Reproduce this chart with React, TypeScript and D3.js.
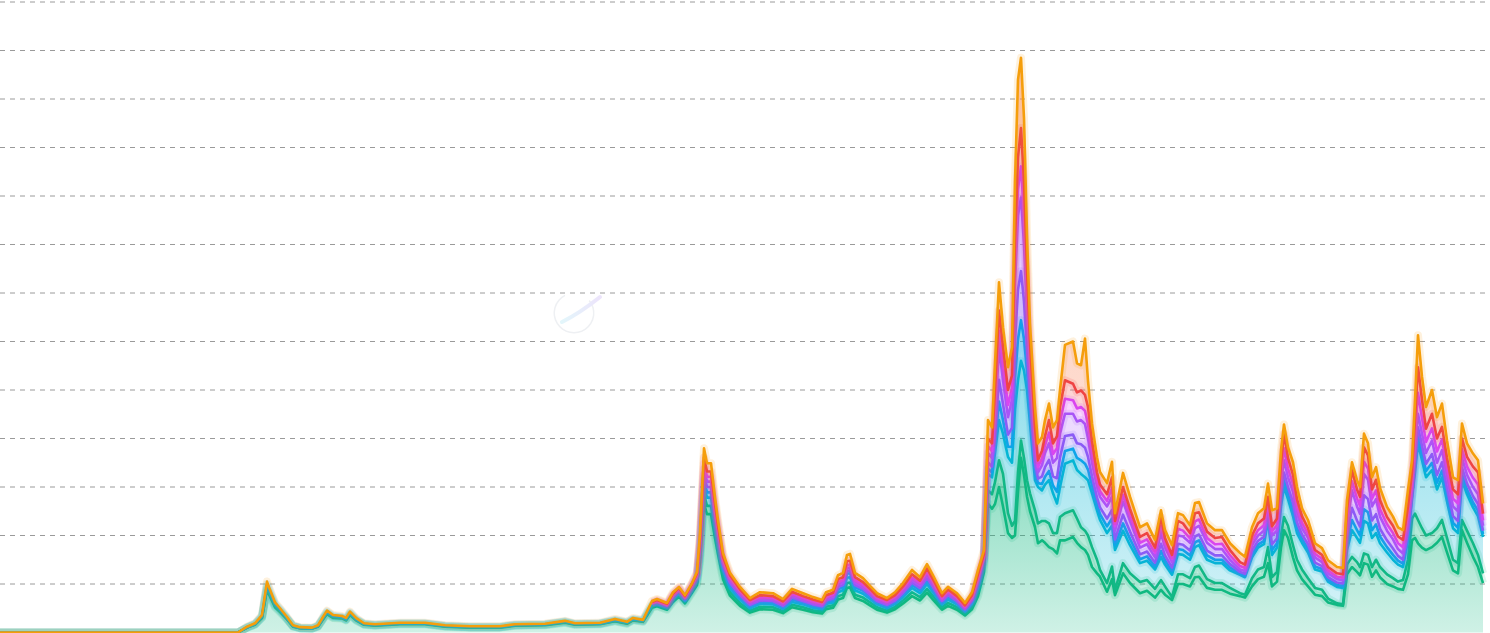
import { useEffect, useRef } from 'react';
import * as d3 from 'd3';

// day offsets of each sample (one pixel of the reference ~ 3 days)
const days = [
  0, 714, 741, 765, 786, 801, 810, 825, 840, 861, 879, 900, 936, 954, 969, 981, 999, 1026, 1038, 1050,
  1068, 1092, 1125, 1200, 1275, 1335, 1410, 1500, 1545, 1635, 1695, 1725, 1800, 1845, 1881, 1899, 1929,
  1956, 1971, 2001, 2019, 2037, 2055, 2076, 2091, 2100, 2112, 2121, 2133, 2145, 2154, 2169, 2190, 2220, 2250, 2280, 2319,
  2349, 2376, 2409, 2439, 2466, 2478, 2499, 2514, 2529, 2541, 2550, 2565, 2589, 2610, 2631, 2661, 2685, 2709, 2736, 2760,
  2781, 2799, 2826, 2844, 2871, 2895, 2916, 2934,
  2952, 2964, 2976, 2985, 2997, 3009, 3024, 3036, 3045, 3054, 3063, 3072, 3081, 3090, 3105, 3114, 3126, 3135, 3147, 3159,
  3171, 3180, 3195, 3219, 3231, 3243, 3255, 3264, 3276, 3291, 3300, 3321, 3336, 3345, 3369, 3390, 3420, 3441, 3465, 3483,
  3495, 3516, 3534, 3549, 3570, 3585, 3597, 3621, 3645, 3666, 3690, 3720, 3735, 3756, 3774, 3792, 3804, 3816, 3831, 3843,
  3852, 3864, 3879, 3891, 3906, 3924, 3945, 3966, 3984, 4011, 4029, 4041, 4056, 4071, 4080, 4092, 4104, 4116, 4128, 4140,
  4161, 4179, 4194, 4209, 4224, 4236, 4245, 4254, 4266, 4278, 4296, 4311, 4326, 4341, 4359, 4374, 4386, 4401, 4419, 4434,
  4449,
];

const emerald = [
  0, 0, .10, .16, .30, .88, .74, .52, .42, .27, .12, .09, .08, .12, .27, .38, .30, .29, .25, .36,
  .25, .16, .14, .17, .17, .12, .10, .10, .14, .15, .20, .16, .17, .23, .18, .25, .22,
  .51, .54, .47, .63, .74, .60, .82, .98, 1.44, 2.66, 2.44, 2.44, 1.95, 1.62, 1.10, .76, .55, .41, .48, .47,
  .40, .52, .47, .42, .39, .48, .51, .68, .71, .92, .93, .71, .65, .56, .47, .41, .48, .60, .75, .66,
  .82, .68, .47, .55, .47, .35, .48, .75,
  1.25, 2.66, 2.55, 2.65, 3.0, 2.6, 2.05, 1.95, 2.0, 2.9, 3.6, 3.25, 2.8, 2.5, 2.17, 1.84, 1.9, 1.85, 1.76, 1.72,
  1.63, 1.9, 1.9, 1.97, 1.85, 1.76, 1.7, 1.6, 1.35, 1.22, 1.15, .84, 1.1, .77, 1.22, 1.02, .81, .86, .72, .88,
  .78, .67, 1.0, 1.0, .95, 1.14, 1.15, .92, .88, .88, .8, .75, .72, .95, 1.1, 1.15, 1.43, .95, 1.05, 1.75,
  2.11, 1.95, 1.55, 1.28, 1.1, .95, .78, .75, .62, .57, .55, 1.2, 1.35, 1.25, 1.18, 1.43, 1.4, 1.15, 1.28, 1.14,
  1.0, .95, .9, .88, 1.2, 1.9, 1.95, 1.84, 1.75, 1.7, 1.76, 1.85, 1.97, 1.65, 1.28, 1.22, 2.11, 1.85, 1.56, 1.35,
  1.02,
];

const teal = [
  0, 0, 0, .01, .01, .03, .03, .02, .02, .01, .01, 0, 0, .01, .01, .01, .01, .01, .01, .01,
  .01, .01, .01, .01, .01, .01, .01, .01, .01, .01, .01, .01, .01, .01, .01, .01, .01,
  .02, .02, .02, .03, .03, .02, .03, .04, .10, .19, .17, .17, .14, .12, .09, .07, .06, .04, .05, .05,
  .04, .05, .05, .04, .04, .05, .05, .07, .07, .10, .10, .07, .07, .06, .05, .04, .05, .06, .08, .07,
  .08, .07, .05, .06, .05, .04, .05, .08,
  .15, .27, .30, .45, .55, .67, .41, .25, .3, .4, .36, .35, .34, .37, .35, .41, .4, .45, .49, .33,
  .42, .48, .56, .55, .5, .41, .4, .4, .41, .28, .14, .18, .26, .11, .21, .2, .23, .22, .18, .2,
  .17, .06, .2, .2, .17, .21, .23, .18, .14, .14, .12, .06, .06, .17, .2, .2, .33, .19, .2, .25,
  .27, .25, .25, .22, .2, .17, .14, .13, .08, .03, .03, .2, .21, .2, .17, .2, .2, .2, .22, .21,
  .2, .17, .15, .2, .3, .45, .5, .48, .4, .3, .29, .3, .35, .3, .22, .21, .21, .25, .28, .25,
  .2,
];

const cyan = [
  0, 0, 0, 0, .02, .04, .03, .03, .02, .01, 0, 0, 0, 0, .01, .02, .02, .01, .01, .02,
  .01, 0, 0, 0, 0, 0, 0, 0, 0, 0, .01, 0, 0, .01, .01, .01, .01,
  .03, .03, .03, .03, .04, .03, .04, .05, .10, .19, .17, .17, .14, .12, .10, .08, .07, .05, .06, .06,
  .05, .06, .06, .05, .05, .06, .06, .08, .09, .11, .11, .09, .08, .07, .06, .05, .06, .07, .09, .08,
  .10, .08, .06, .07, .06, .04, .06, .09,
  .10, .34, .35, .60, .83, .83, 1.16, 1.3, 2.3, 1.9, 1.64, 1.8, 1.86, 1.44, .62, .75, .63, .75, .89, .82,
  .61, .62, 1.02, 1.03, 1.0, 1.1, 1.1, 1.14, 1.11, 1.02, 1.03, 1.03, .84, .82, .67, .58, .39, .4, .4, .48,
  .45, .46, .42, .4, .38, .41, .42, .4, .41, .41, .36, .38, .36, .43, .45, .47, .56, .46, .5, .6,
  .62, .55, .6, .55, .55, .53, .38, .38, .35, .34, .34, .3, .55, .5, .5, .67, .65, .6, .55, .49,
  .45, .38, .35, .27, .4, .4, .85, 1.58, 1.4, 1.2, 1.3, .8, .88, .75, .65, .62, .82, .75, .74, .8,
  .75,
];

const sky = [
  0, 0, .01, .01, .01, .05, .04, .02, .02, .01, .01, .01, .01, .01, .01, .02, .01, .01, .01, .02,
  .01, .01, .01, .01, .01, .01, .01, .01, .01, .01, .01, .01, .01, .01, .01, .01, .01,
  .02, .03, .02, .03, .03, .03, .03, .04, .06, .11, .11, .11, .09, .07, .06, .06, .05, .04, .04, .04,
  .03, .05, .04, .04, .03, .04, .04, .06, .06, .08, .08, .06, .06, .05, .04, .04, .04, .05, .06, .06,
  .07, .06, .04, .05, .04, .03, .04, .06,
  .01, .11, .10, .18, .38, .28, .21, .33, .65, .85, .84, .65, .39, .26, .17, .08, .13, .16, .19, .16,
  .24, .28, .26, .24, .25, .28, .28, .22, .16, .12, .12, .14, .15, .1, .15, .13, .08, .09, .06, .12,
  .09, .07, .1, .1, .09, .1, .1, .09, .07, .07, .06, .03, .03, .06, .06, .07, .06, .1, .09, .13,
  .14, .11, .13, .1, .08, .08, .06, .05, .04, .04, .04, .13, .21, .16, .15, .24, .23, .16, .18, .14,
  .11, .1, .08, .07, .09, .05, .13, .15, .14, .13, .15, .14, .14, .13, .11, .11, .12, .1, .1, .11,
  .06,
];

const violet = [
  0, 0, 0, 0, 0, 0, 0, 0, 0, 0, 0, 0, 0, 0, 0, 0, 0, 0, 0, 0,
  0, 0, 0, 0, 0, 0, 0, 0, 0, 0, 0, 0, 0, 0, 0, 0, 0,
  .01, .01, .01, .02, .02, .02, .02, .03, .06, .11, .11, .11, .08, .07, .05, .05, .04, .03, .03, .03,
  .03, .04, .03, .03, .03, .03, .04, .05, .05, .06, .06, .05, .04, .04, .03, .03, .03, .04, .05, .05,
  .06, .05, .03, .04, .03, .02, .03, .05,
  .02, .13, .12, .21, .45, .33, .25, .39, .78, 1.02, 1.01, .78, .47, .31, .2, .09, .16, .2, .23, .19,
  .28, .33, .31, .29, .3, .33, .33, .26, .19, .14, .14, .16, .18, .12, .18, .15, .1, .1, .08, .15,
  .1, .08, .11, .11, .1, .12, .12, .1, .09, .09, .07, .03, .04, .08, .08, .08, .07, .12, .1, .15,
  .16, .14, .15, .12, .09, .09, .08, .06, .05, .05, .05, .15, .25, .2, .18, .29, .27, .2, .21, .16,
  .14, .13, .1, .08, .1, .06, .15, .18, .16, .15, .18, .16, .17, .15, .14, .14, .14, .12, .13, .14,
  .07,
];

const purple = [
  0, 0, 0, 0, 0, 0, 0, 0, 0, 0, 0, 0, 0, 0, 0, 0, 0, 0, 0, 0,
  0, 0, 0, 0, 0, 0, 0, 0, 0, 0, 0, 0, 0, 0, 0, 0, 0,
  .01, .01, .01, .02, .02, .02, .02, .03, .06, .11, .11, .11, .08, .07, .05, .05, .04, .03, .03, .03,
  .03, .04, .03, .03, .03, .03, .04, .05, .05, .06, .06, .05, .04, .04, .03, .03, .03, .04, .05, .05,
  .06, .05, .03, .04, .03, .02, .03, .05,
  .02, .19, .18, .31, .67, .49, .36, .58, 1.17, 1.53, 1.52, 1.17, .71, .46, .31, .13, .23, .29, .34, .28,
  .42, .49, .46, .43, .45, .5, .49, .38, .28, .22, .22, .25, .27, .18, .27, .22, .14, .15, .11, .22,
  .16, .11, .17, .17, .16, .17, .18, .16, .13, .13, .09, .05, .06, .11, .11, .13, .1, .18, .16, .22,
  .25, .2, .22, .18, .13, .13, .11, .08, .08, .07, .07, .22, .36, .29, .27, .44, .4, .29, .31, .25,
  .2, .19, .14, .13, .16, .09, .22, .28, .25, .22, .28, .25, .25, .22, .2, .2, .2, .18, .19, .2,
  .1,
];

const fuchsia = [
  0, 0, 0, 0, 0, 0, 0, 0, 0, 0, 0, 0, 0, 0, 0, 0, 0, 0, 0, 0,
  0, 0, 0, 0, 0, 0, 0, 0, 0, 0, 0, 0, 0, 0, 0, 0, 0,
  .01, .01, .01, .02, .02, .01, .02, .02, .06, .11, .10, .10, .08, .07, .05, .05, .04, .03, .04, .03,
  .03, .04, .03, .03, .03, .04, .04, .05, .05, .06, .06, .05, .04, .04, .03, .03, .04, .04, .05, .05,
  .06, .05, .03, .04, .03, .03, .04, .05,
  .03, .14, .14, .27, .34, .32, .25, .23, .41, .54, .64, .59, .42, .28, .18, .11, .14, .16, .22, .18,
  .2, .25, .31, .28, .27, .27, .27, .29, .2, .14, .11, .11, .18, .09, .14, .11, .1, .1, .09, .15,
  .09, .07, .14, .12, .09, .14, .13, .1, .1, .11, .09, .07, .06, .09, .11, .11, .11, .09, .11, .18,
  .25, .18, .16, .14, .11, .09, .07, .07, .06, .05, .05, .16, .19, .16, .16, .25, .23, .16, .18, .15,
  .13, .13, .12, .13, .16, .16, .27, .43, .32, .23, .25, .23, .22, .18, .16, .16, .18, .17, .19, .2,
  .11,
];

const red = [
  0, 0, 0, 0, 0, 0, 0, 0, 0, 0, 0, 0, 0, 0, 0, 0, 0, 0, 0, 0,
  0, 0, 0, 0, 0, 0, 0, 0, 0, 0, 0, 0, 0, 0, 0, 0, 0,
  .02, .02, .02, .02, .02, .02, .02, .03, .06, .13, .11, .11, .09, .07, .06, .06, .04, .04, .04, .04,
  .03, .04, .04, .04, .03, .04, .04, .06, .06, .08, .08, .06, .06, .04, .04, .04, .04, .05, .07, .05,
  .07, .06, .04, .04, .04, .03, .04, .07,
  .04, .16, .16, .33, .42, .38, .31, .27, .49, .66, .79, .71, .51, .35, .23, .14, .16, .19, .26, .22,
  .25, .3, .38, .34, .33, .34, .33, .36, .25, .16, .14, .14, .22, .11, .16, .14, .12, .13, .11, .18,
  .11, .08, .16, .15, .11, .17, .15, .13, .13, .14, .11, .08, .07, .11, .14, .14, .14, .1, .14, .22,
  .3, .22, .19, .16, .14, .11, .08, .08, .07, .07, .07, .19, .23, .19, .19, .3, .27, .19, .22, .19,
  .15, .15, .14, .15, .19, .19, .33, .53, .38, .27, .3, .27, .26, .22, .19, .19, .22, .2, .23, .25,
  .14,
];

const amber = [
  0, 0, .01, .01, .02, .05, .04, .03, .02, .02, .01, .01, .01, .01, .02, .02, .02, .02, .02, .02,
  .02, .01, .01, .01, .01, .01, .01, .01, .01, .01, .01, .01, .01, .02, .01, .02, .01,
  .02, .02, .02, .03, .02, .02, .02, .03, .11, .19, .17, .17, .14, .11, .08, .05, .05, .04, .06, .06,
  .05, .06, .06, .05, .04, .06, .06, .08, .09, .13, .14, .09, .08, .06, .06, .04, .06, .07, .09, .07,
  .09, .08, .06, .05, .06, .05, .06, .09,
  .08, .38, .33, .55, .58, .39, .47, .58, 1.2, 1.6, 1.45, 1.3, .7, .4, .41, .35, .28, .33, .34, .33,
  .33, .35, .73, .87, .6, .52, 1.16, .54, .35, .31, .26, .23, .32, .16, .29, .25, .2, .2, .16, .14,
  .16, .2, .16, .17, .16, .21, .21, .17, .16, .14, .14, .19, .16, .17, .21, .21, .27, .33, .21, .26,
  .19, .22, .26, .25, .16, .17, .14, .14, .14, .13, .13, .18, .16, .19, .2, .28, .25, .25, .26, .25,
  .21, .19, .19, .2, .34, .25, .39, .66, .47, .45, .49, .44, .48, .36, .25, .29, .31, .28, .27, .25,
  .21,
];

const keys = ['emerald', 'teal', 'cyan', 'sky', 'violet', 'purple', 'fuchsia', 'red', 'amber'];
const values = [emerald, teal, cyan, sky, violet, purple, fuchsia, red, amber];
const lineColors = ['#10b981', '#12b886', '#06b6d4', '#0ea5e9', '#8b5cf6', '#a855f7', '#d946ef', '#ef4444', '#f59e0b'];
const fillColors = ['#10b981', '#10b981', '#06b6d4', '#22b3e6', '#a78bfa', '#c084fc', '#e879f9', '#f87171', '#fa7f52'];
const gridTicks = [1, 2, 3, 4, 5, 6, 7, 8, 9, 10, 11, 12, 13];

type Row = Record<string, number>;

export default function App() {
  const ref = useRef<SVGSVGElement | null>(null);

  useEffect(() => {
    if (!ref.current) return;
    const svg = d3.select(ref.current);
    svg.selectAll('*').remove();

    const plotRight = 1485;
    const x = d3.scaleLinear().domain([0, 4455]).range([0, plotRight]);
    const y = d3.scaleLinear().domain([0, 13]).range([632.5, 2]);

    const rows: Row[] = days.map((day, i) => {
      const row: Row = { day };
      keys.forEach((k, j) => { row[k] = values[j][i] ?? 0; });
      return row;
    });
    const layers = d3.stack<Row>().keys(keys)(rows);

    const defs = svg.append('defs');
    fillColors.forEach((c, j) => {
      const g = defs.append('linearGradient')
        .attr('id', `fill-${j}`)
        .attr('x1', 0).attr('y1', 0).attr('x2', 0).attr('y2', 1);
      g.append('stop').attr('offset', '0%').attr('stop-color', c).attr('stop-opacity', j === 0 ? 0.5 : 0.45);
      g.append('stop').attr('offset', '100%').attr('stop-color', c).attr('stop-opacity', j === 0 ? 0.2 : 0.16);
    });
    const swoosh = defs.append('linearGradient').attr('id', 'wm').attr('x1', 0).attr('x2', 1);
    swoosh.append('stop').attr('offset', '0%').attr('stop-color', '#e3f6fb');
    swoosh.append('stop').attr('offset', '100%').attr('stop-color', '#ece4fb');

    // dashed grid
    svg.append('g')
      .selectAll('line')
      .data(gridTicks)
      .join('line')
      .attr('x1', 0)
      .attr('x2', plotRight)
      .attr('y1', d => y(d))
      .attr('y2', d => y(d))
      .attr('stroke', '#9a9a9a')
      .attr('stroke-width', 1)
      .attr('stroke-dasharray', '5,5');

    // faint watermark
    const wm = svg.append('g').attr('transform', 'translate(574,313)');
    const arc = d3.arc()({ innerRadius: 19, outerRadius: 20.5, startAngle: Math.PI * 0.28, endAngle: Math.PI * 1.85 } as any);
    wm.append('path').attr('d', arc).attr('fill', '#eef0f3');
    wm.append('path')
      .attr('d', 'M-12,9 Q6,0 26,-16')
      .attr('fill', 'none')
      .attr('stroke', 'url(#wm)')
      .attr('stroke-width', 4)
      .attr('stroke-linecap', 'round');

    const area = d3.area<d3.SeriesPoint<Row>>()
      .x(d => x(d.data.day))
      .y0(d => y(d[0]))
      .y1(d => y(d[1]));

    svg.append('g')
      .selectAll('path')
      .data(layers)
      .join('path')
      .attr('d', area)
      .attr('fill', (_, j) => `url(#fill-${j})`);

    const lines = svg.append('g').attr('fill', 'none').attr('stroke-linejoin', 'round');
    layers.forEach((layer, j) => {
      const always = j < 4 || j === 8;
      const line = d3.line<d3.SeriesPoint<Row>>()
        .defined(d => always || d[1] - d[0] > 0.001)
        .x(d => x(d.data.day))
        .y(d => y(d[1]));
      lines.append('path')
        .attr('d', line(layer))
        .attr('stroke', lineColors[j])
        .attr('stroke-width', 8)
        .attr('stroke-opacity', 0.14);
      lines.append('path')
        .attr('d', line(layer))
        .attr('stroke', lineColors[j])
        .attr('stroke-width', 2.6);
    });
  }, []);

  return (
    <svg
      ref={ref}
      width={1490}
      height={633}
      style={{ position: 'absolute', left: 0, top: 0, background: '#fff' }}
    />
  );
}
